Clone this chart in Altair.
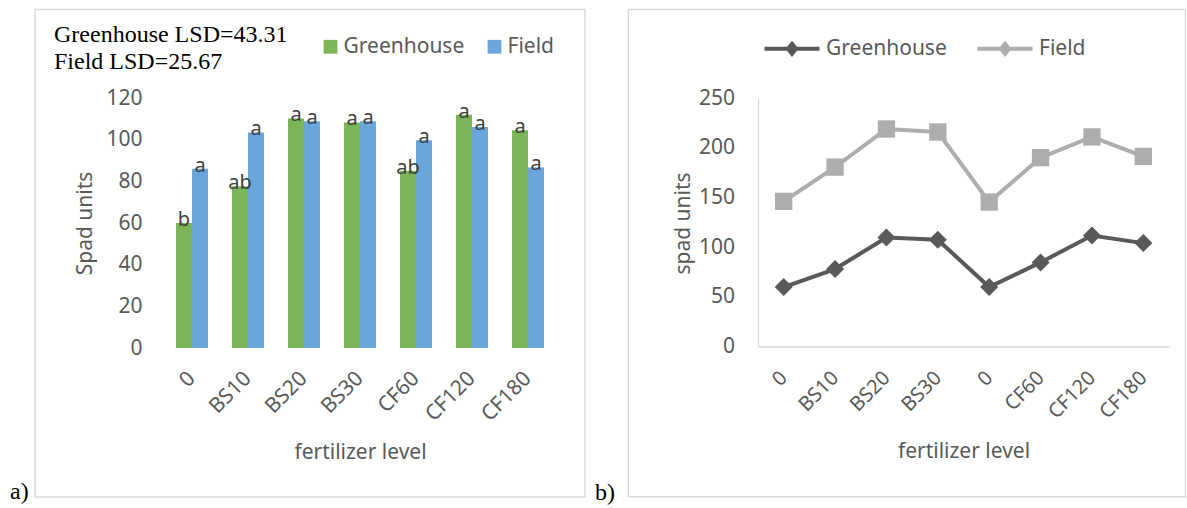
import json
import altair as alt
import pandas as pd

# ---------------- data ----------------
series_names = ["Greenhouse", "Field"]

categories_a = ["0", "BS10", "BS20", "BS30", "CF60", "CF120", "CF180"]
greenhouse_a = [60.0, 77.6, 110.2, 108.3, 85.1, 112.0, 104.5]
field_a = [86.1, 103.5, 108.8, 108.8, 99.7, 106.1, 86.7]
greenhouse_letters = ["b", "ab", "a", "a", "ab", "a", "a"]
field_letters = ["a", "a", "a", "a", "a", "a", "a"]
lsd_lines = ["Greenhouse LSD=43.31", "Field LSD=25.67"]
y_ticks_a = [0, 20, 40, 60, 80, 100, 120]

categories_b = ["0", "BS10", "BS20", "BS30", "0", "CF60", "CF120", "CF180"]
greenhouse_b = [59.8, 77.9, 109.7, 107.4, 59.8, 84.6, 111.7, 104.0]
field_b = [146.0, 180.5, 218.8, 215.8, 145.3, 190.0, 210.8, 191.2]
y_ticks_b = [0, 50, 100, 150, 200, 250]

panel_labels = ["a)", "b)"]
x_title = "fertilizer level"
y_title_a = "Spad units"
y_title_b = "spad units"

# ---------------- tables ----------------
n_a = len(categories_a)
df_a = pd.DataFrame({
    "cat": categories_a * 2,
    "series": [series_names[0]] * n_a + [series_names[1]] * n_a,
    "value": greenhouse_a + field_a,
    "letter": greenhouse_letters + field_letters,
})
n_b = len(categories_b)
df_b = pd.DataFrame({
    "idx": list(range(n_b)) * 2,
    "series": [series_names[0]] * n_b + [series_names[1]] * n_b,
    "value": greenhouse_b + field_b,
})
one = pd.DataFrame({"k": [0]})
lsd_df = pd.DataFrame({"t": ["\n".join(lsd_lines)]})
lab_a = pd.DataFrame({"t": [panel_labels[0]]})
lab_b = pd.DataFrame({"t": [panel_labels[1]]})

FONT = "Noto Sans"
SERIF = "Liberation Serif"
GRAY = "#595959"
FRAME = "#D9D9D9"
GREEN = "#7BB558"
BLUE = "#6AA5DC"

# ---------------- panel a ----------------
W_A, H_A = 392, 250
x_a = alt.X(
    "cat:N", sort=categories_a,
    scale=alt.Scale(paddingInner=24 / 56, paddingOuter=12 / 56),
    axis=alt.Axis(title=x_title, labelAngle=-45, labelAlign="right", labelBaseline="middle",
                  labelPadding=27, ticks=False, tickSize=0, domain=False,
                  titleX=196, titleY=104, titleBaseline="middle", titleAlign="center"),
)
xoff_a = alt.XOffset("series:N", sort=series_names, scale=alt.Scale(paddingInner=0, paddingOuter=0))
y_a = alt.Y(
    "value:Q", scale=alt.Scale(domain=[0, 120], nice=False),
    axis=alt.Axis(title=y_title_a, values=y_ticks_a, ticks=False, tickSize=0, domain=False,
                  labelPadding=22, titleX=-79, titleY=125, titleAngle=270,
                  titleBaseline="middle", titleAlign="center"),
)
bars = alt.Chart(df_a).mark_bar().encode(
    x=x_a, xOffset=xoff_a, y=y_a,
    color=alt.Color(
        "series:N", sort=series_names,
        scale=alt.Scale(domain=series_names, range=[GREEN, BLUE]),
        legend=alt.Legend(title=None, orient="none", direction="horizontal", legendX=156, legendY=-62,
                          symbolType="square", symbolSize=190, symbolStrokeWidth=0,
                          labelFont=FONT, labelFontSize=21, labelColor=GRAY, labelOffset=2.5,
                          columnPadding=19, padding=0),
    ),
)
letters = alt.Chart(df_a).mark_text(font=FONT, fontSize=20, color="#404040", baseline="alphabetic", dy=3).encode(
    x=x_a, xOffset=xoff_a, y=y_a, text="letter:N"
)
lsd = alt.Chart(lsd_df).mark_text(align="left", baseline="alphabetic", font=SERIF, fontSize=24,
                                  color="black", lineBreak="\n", lineHeight=27.5).encode(
    x=alt.value(-110), y=alt.value(-56.5), text="t:N"
)
frame_a = alt.Chart(one).mark_rect(fillOpacity=0, stroke=FRAME, strokeWidth=1.4).encode(
    x=alt.value(-129), x2=alt.value(421), y=alt.value(-88.5), y2=alt.value(399)
)
bounds = alt.Chart(one).mark_rect(opacity=0).encode(
    x=alt.value(-164), x2=alt.value(1023), y=alt.value(-98), y2=alt.value(410)
)
tag_a = alt.Chart(lab_a).mark_text(align="left", baseline="alphabetic", font=SERIF, fontSize=24, color="black").encode(
    x=alt.value(-154), y=alt.value(401), text="t:N"
)
left = alt.layer(bounds, frame_a, bars, letters, lsd, tag_a).properties(width=W_A, height=H_A)

# ---------------- panel b ----------------
W_B, H_B = 411, 248.5
label_expr = json.dumps(categories_b) + "[datum.value]"
x_b = alt.X(
    "idx:O",
    axis=alt.Axis(title=x_title, labelExpr=label_expr, labelAngle=-45, labelAlign="right",
                  labelBaseline="middle", labelPadding=28, labelFontSize=20, ticks=False, tickSize=0,
                  domain=True, domainColor=FRAME, domainWidth=1.3,
                  titleX=205.5, titleY=105, titleBaseline="middle", titleAlign="center"),
)
y_b = alt.Y(
    "value:Q", scale=alt.Scale(domain=[0, 250], nice=False),
    axis=alt.Axis(title=y_title_b, values=y_ticks_b, ticks=False, tickSize=0, domain=True,
                  domainColor=FRAME, domainWidth=1.3, labelPadding=23.5,
                  titleX=-74.5, titleY=125, titleAngle=270, titleBaseline="middle", titleAlign="center"),
)
line_colors = ["#595959", "#ADADAD"]
legend_path = "M-1,0L1,0M0,-0.18L0.145,0L0,0.18L-0.145,0ZM0,-0.07L0.055,0L0,0.07L-0.055,0Z"

line_scale = alt.Scale(domain=series_names, range=line_colors)
lines = alt.Chart(df_b).mark_line(strokeWidth=4).encode(
    x=x_b, y=y_b,
    color=alt.Color("series:N", sort=series_names, scale=line_scale,
                    legend=alt.Legend(title=None, orient="none", direction="horizontal", legendX=4.5, legendY=-79,
                                      symbolType=legend_path, symbolSize=3025, symbolStrokeWidth=4,
                                      labelFont=FONT, labelFontSize=21, labelColor=GRAY, labelOffset=4.5,
                                      columnPadding=22, padding=0)),
)
pts_g = alt.Chart(df_b).transform_filter(alt.datum.series == series_names[0]).mark_point(
    filled=True, opacity=1, shape="diamond", size=324, color=line_colors[0]
).encode(x=x_b, y=y_b)
pts_f = alt.Chart(df_b).transform_filter(alt.datum.series == series_names[1]).mark_point(
    filled=True, opacity=1, shape="square", size=300, color=line_colors[1]
).encode(x=x_b, y=y_b)
frame_b = alt.Chart(one).mark_rect(fillOpacity=0, stroke=FRAME, strokeWidth=1.4).encode(
    x=alt.value(-129.7), x2=alt.value(427.5), y=alt.value(-88.5), y2=alt.value(398.7)
)
tag_b = alt.Chart(lab_b).mark_text(align="left", baseline="alphabetic", font=SERIF, fontSize=24, color="black").encode(
    x=alt.value(-163), y=alt.value(401.5), text="t:N"
)
right = alt.layer(frame_b, lines, pts_g, pts_f, tag_b).properties(width=W_B, height=H_B)

chart = alt.hconcat(left, right, spacing=202, bounds="flush").resolve_scale(
    color="independent"
).properties(
    padding={"left": 0, "top": 0, "right": 0, "bottom": 0}, background="white"
).configure_view(strokeWidth=0).configure_axis(
    labelFont=FONT, labelFontSize=21, labelColor=GRAY,
    titleFont=FONT, titleFontSize=21, titleColor=GRAY, titleFontWeight="normal", grid=False,
)

chart.save("out.html", embed_options={"renderer": "svg", "actions": False})
